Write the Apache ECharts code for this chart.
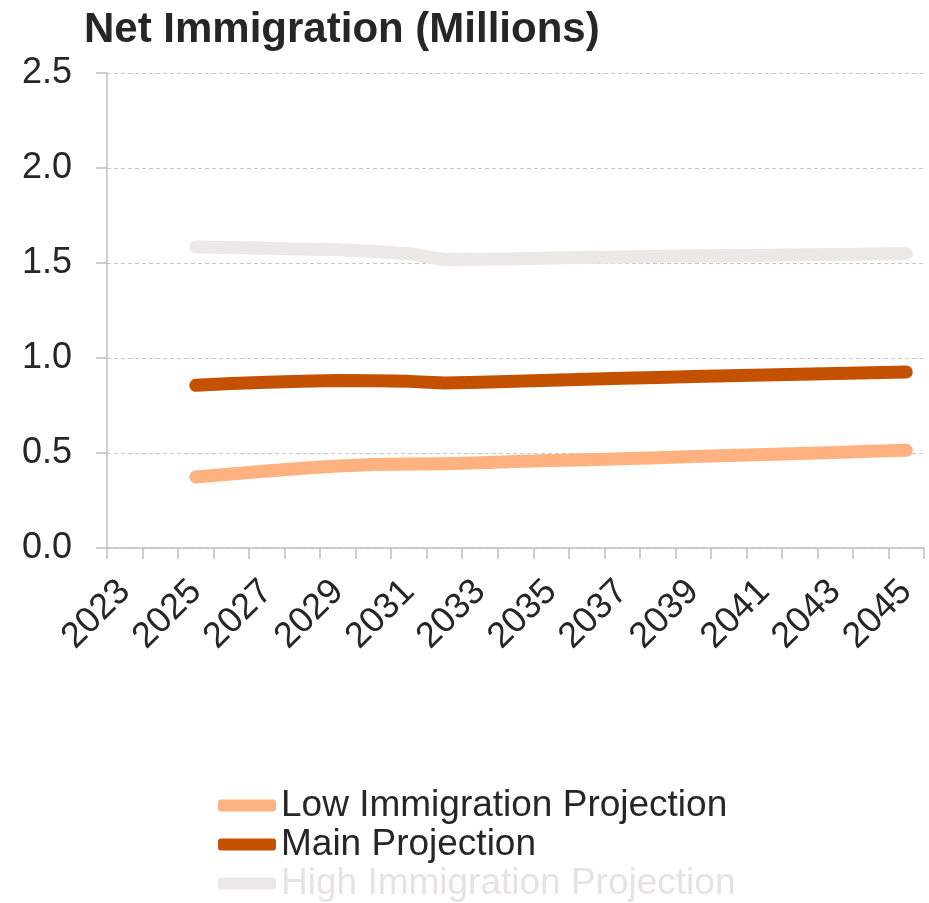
<!DOCTYPE html>
<html>
<head>
<meta charset="utf-8">
<script src="https://cdn.jsdelivr.net/npm/echarts@6/dist/echarts.min.js"></script>
<style>
  html, body { margin: 0; padding: 0; background: #fff; }
  #chart { width: 929px; height: 903px; }
</style>
</head>
<body>
<div id="chart"></div>
<script>
// years on the x axis
var years = ['2023', '2024', '2025', '2026', '2027', '2028', '2029', '2030', '2031', '2032', '2033', '2034',
             '2035', '2036', '2037', '2038', '2039', '2040', '2041', '2042', '2043', '2044', '2045'];
var yTicks = [0, 0.5, 1.0, 1.5, 2.0, 2.5];

// net immigration, millions
var lowProj  = [null, null, 0.374, 0.390, 0.405, 0.420, 0.432, 0.439, 0.442, 0.444, 0.449, 0.455,
                0.460, 0.465, 0.470, 0.475, 0.481, 0.487, 0.492, 0.498, 0.503, 0.509, 0.514];
var mainProj = [null, null, 0.856, 0.866, 0.873, 0.877, 0.881, 0.880, 0.877, 0.868, 0.873, 0.878,
                0.883, 0.888, 0.893, 0.898, 0.902, 0.906, 0.910, 0.914, 0.918, 0.922, 0.926];
var highProj = [null, null, 1.584, 1.581, 1.577, 1.573, 1.570, 1.560, 1.549, 1.518, 1.520, 1.523,
                1.526, 1.529, 1.532, 1.535, 1.537, 1.539, 1.541, 1.543, 1.545, 1.547, 1.549];

var names = ['Low Immigration Projection', 'Main Projection', 'High Immigration Projection'];
var colors = ['#ffb27f', '#c45100', '#ebe8e5'];
var legendText = ['#262626', '#262626', '#e6e3e0'];

var chart = echarts.init(document.getElementById('chart'));

function lineSeries(i, data) {
    return {
        name: names[i],
        type: 'line',
        data: data,
        showSymbol: false,
        symbol: 'none',
        connectNulls: false,
        lineStyle: { color: colors[i], width: 13, cap: 'round', join: 'round' },
        itemStyle: { color: colors[i] }
    };
}

// one legend per row so the column never wraps
function legendRow(i) {
    return {
        orient: 'vertical',
        left: 218,
        top: 787 + i * 39,
        padding: 0,
        itemWidth: 58,
        itemHeight: 12,
        icon: 'roundRect',
        selectedMode: false,
        textStyle: { fontSize: 37, lineHeight: 36, color: legendText[i] },
        data: [names[i]]
    };
}

var option = {
    animation: false,
    textStyle: { fontFamily: 'Liberation Sans, Arial, sans-serif' },
    title: {
        text: 'Net Immigration (Millions)',
        left: 79,
        top: 4,
        textStyle: { fontSize: 42, fontWeight: 'bold', color: '#262626' }
    },
    grid: { left: 107, right: 5, top: 73, bottom: 355 },
    legend: [legendRow(0), legendRow(1), legendRow(2)],
    xAxis: {
        type: 'category',
        data: years,
        boundaryGap: true,
        axisLine: { lineStyle: { color: '#bfbfbf', width: 1.5 } },
        axisTick: { show: true, interval: 0, length: 11, lineStyle: { color: '#bfbfbf', width: 1.5 } },
        axisLabel: { interval: 1, rotate: 45, fontSize: 36, color: '#262626', margin: 38 }
    },
    yAxis: {
        type: 'value',
        min: yTicks[0],
        max: yTicks[yTicks.length - 1],
        interval: 0.5,
        axisLine: { show: true, lineStyle: { color: '#bfbfbf', width: 1.5 } },
        axisTick: { show: true, length: 11, lineStyle: { color: '#bfbfbf', width: 1.5 } },
        splitLine: { lineStyle: { color: '#c8c8c8', type: [4, 3], width: 1 } },
        axisLabel: {
            fontSize: 36, color: '#262626', margin: 35,
            formatter: function (v) { return v.toFixed(1); }
        }
    },
    series: [
        lineSeries(0, lowProj),
        lineSeries(1, mainProj),
        lineSeries(2, highProj)
    ]
};

chart.setOption(option);
</script>
</body>
</html>
